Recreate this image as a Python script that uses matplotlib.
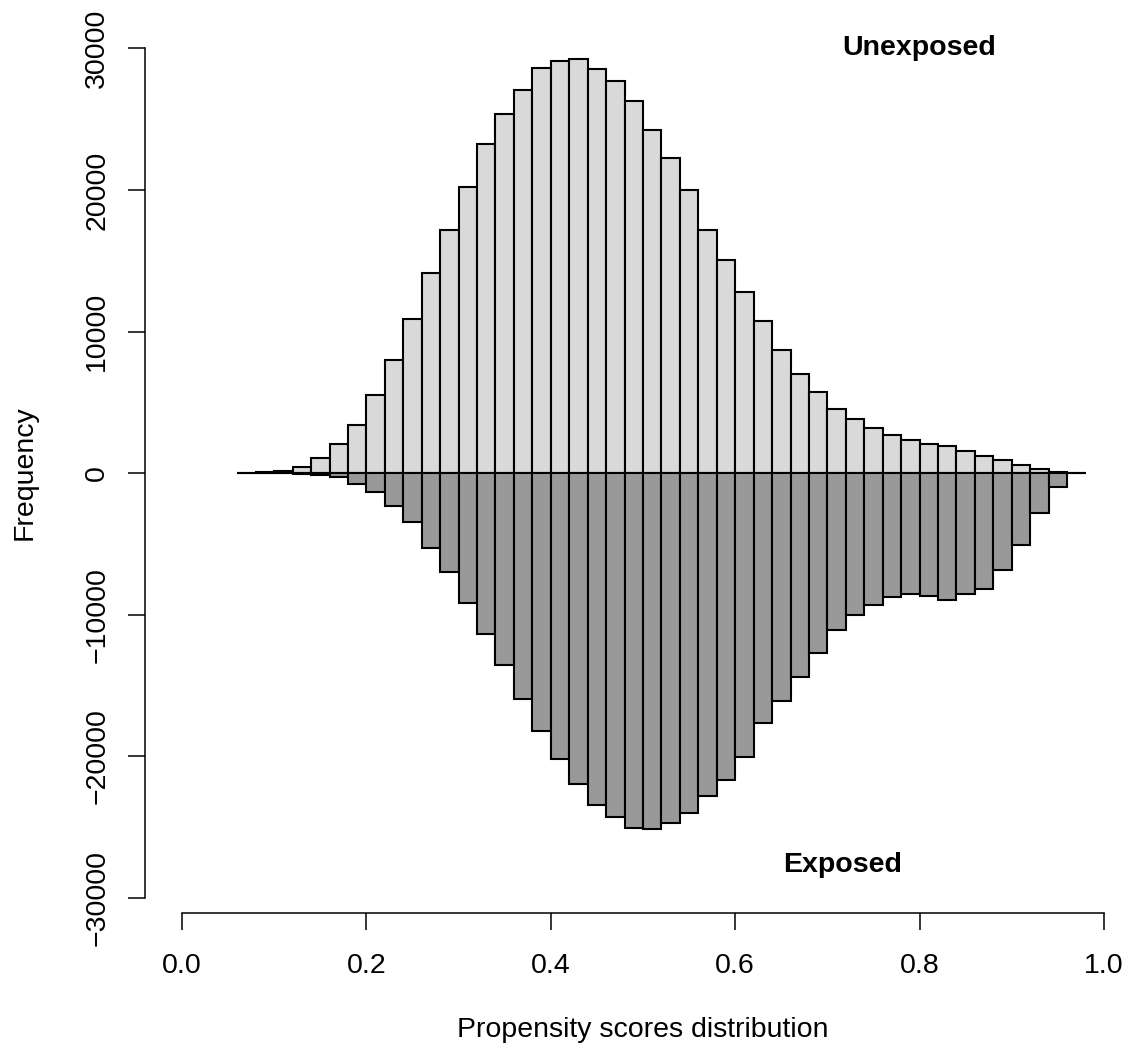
import numpy as np
import matplotlib
matplotlib.use("Agg")
from matplotlib import pyplot as plt

# left edges of the 0.02-wide propensity score bins
bin_left = np.round(np.arange(0.06, 0.97, 0.02), 2)
bin_width = 0.02

# counts per bin
unexposed = [5, 40, 110, 450, 1040, 2050, 3410, 5510, 8010, 10880,
             14130, 17150, 20230, 23230, 25390, 27090, 28600, 29140, 29240, 28570,
             27680, 26310, 24260, 22260, 20000, 17150, 15030, 12770, 10720, 8670,
             7000, 5750, 4540, 3790, 3160, 2660, 2360, 2070, 1880, 1580,
             1200, 920, 540, 260, 60, 10]
exposed = [2, 10, 30, 60, 170, 300, 780, 1340, 2330, 3490,
           5280, 7020, 9210, 11360, 13550, 15970, 18230, 20230, 21950, 23440,
           24290, 25070, 25180, 24710, 24030, 22780, 21650, 20050, 17690, 16130,
           14440, 12720, 11100, 10060, 9300, 8740, 8580, 8720, 8980, 8530,
           8170, 6880, 5070, 2800, 970, 30]

x_ticks = [0.0, 0.2, 0.4, 0.6, 0.8, 1.0]
y_ticks = [-30000, -20000, -10000, 0, 10000, 20000, 30000]

plt.rcParams['font.family'] = ['Liberation Sans', 'DejaVu Sans']
fs = 20.5

W, H = 1130, 1059
fig = plt.figure(figsize=(W / 100, H / 100), dpi=100)
left_px, right_px, bottom_px, top_px = 145, 1130, 913, 20
ax = fig.add_axes([left_px / W, 1 - bottom_px / H,
                   (right_px - left_px) / W, (bottom_px - top_px) / H])

# pixel -> data mapping of the plot region
x0, xs = 182, 922.0          # x=0 at px 182, 922 px per unit
y0, ys = 473.05, 14.155      # y=0 at px 473, px per 1000
ax.set_xlim((left_px - x0) / xs, (right_px - x0) / xs)
ax.set_ylim((y0 - bottom_px) / ys * 1000, (y0 - top_px) / ys * 1000)

ax.bar(bin_left, unexposed, width=bin_width, align='edge',
       color='#d9d9d9', edgecolor='black', linewidth=1.5)
ax.bar(bin_left, [-v for v in exposed], width=bin_width, align='edge',
       color='#999999', edgecolor='black', linewidth=1.5)

for s in ['top', 'right']:
    ax.spines[s].set_visible(False)
ax.spines['left'].set_bounds(-30000, 30000)
ax.spines['bottom'].set_bounds(0, 1)
for s in ['left', 'bottom']:
    ax.spines[s].set_linewidth(1.1)

ax.set_xticks(x_ticks)
ax.set_xticklabels(['0.0', '0.2', '0.4', '0.6', '0.8', '1.0'])
ax.set_yticks(y_ticks)
ax.set_yticklabels([str(v).replace('-', '\u2212') for v in y_ticks],
                   rotation=90, va='center')
ax.tick_params(direction='out', length=12, width=1.1, labelsize=fs)
ax.tick_params(axis='x', pad=17)
ax.tick_params(axis='y', pad=13)

ax.text(0.8, 30000, 'Unexposed', ha='center', va='center',
        fontsize=fs, fontweight='bold')
ax.text(0.716, -27700, 'Exposed', ha='center', va='center',
        fontsize=fs, fontweight='bold')

fig.text(643 / W, 1 - 1030 / H, 'Propensity scores distribution',
         ha='center', va='center', fontsize=fs)
fig.text(25 / W, 1 - 473 / H, 'Frequency', ha='center', va='center',
         rotation=90, fontsize=fs)

fig.savefig('out.png', dpi=100)
